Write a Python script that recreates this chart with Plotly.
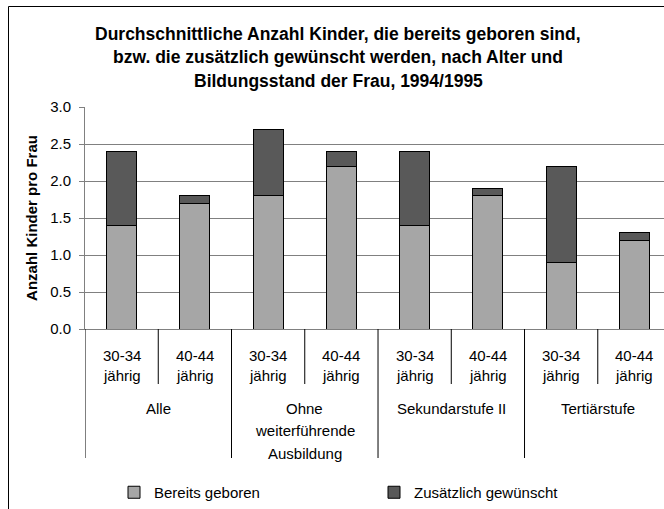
import plotly.graph_objects as go

# ---- data ----
groups = ["Alle", "Ohne weiterführende Ausbildung", "Sekundarstufe II", "Tertiärstufe"]
group_label_lines = [["Alle"], ["Ohne", "weiterführende", "Ausbildung"], ["Sekundarstufe II"], ["Tertiärstufe"]]
ages = ["30-34", "40-44"]
age_suffix = "jährig"
bereits_geboren = [1.4, 1.7, 1.8, 2.2, 1.4, 1.8, 0.9, 1.2]
zusaetzlich_gewuenscht = [1.0, 0.1, 0.9, 0.2, 1.0, 0.1, 1.3, 0.1]
series_names = ["Bereits geboren", "Zusätzlich gewünscht"]
title_lines = [
    "Durchschnittliche Anzahl Kinder, die bereits geboren sind,",
    "bzw. die zusätzlich gewünscht werden, nach Alter und",
    "Bildungsstand der Frau, 1994/1995",
]
y_title = "Anzahl Kinder pro Frau"

categories = [f"{g} {a}" for g in groups for a in ages]

FONT = "Liberation Sans, Arial, sans-serif"
W, H = 664, 509
L, T = 85, 107
B_PIX = 329  # y pixel of axis bottom
PH = B_PIX - T
PW = W - L


def py(pix):
    """pixel y -> paper y"""
    return (B_PIX - pix) / PH


def px(pix):
    return (pix - L) / PW


fig = go.Figure()
fig.add_trace(go.Bar(
    x=categories, y=bereits_geboren, name=series_names[0],
    marker=dict(color="#a6a6a6", line=dict(color="#000000", width=1)),
    width=0.41,
))
fig.add_trace(go.Bar(
    x=categories, y=zusaetzlich_gewuenscht, name=series_names[1],
    marker=dict(color="#595959", line=dict(color="#000000", width=1)),
    width=0.41,
))

annotations = []
shapes = []
n = len(categories)
LBL = 15
# title lines
for li, line in enumerate(title_lines):
    annotations.append(dict(x=px(338), xref="paper", y=py(34 + li * 23.5), yref="paper",
                            text="<b>" + line + "</b>", showarrow=False,
                            font=dict(family=FONT, size=17.5, color="#000"),
                            xanchor="center", yanchor="middle"))
# category labels
for i, c in enumerate(categories):
    age = ages[i % len(ages)]
    annotations.append(dict(x=c, xref="x", y=py(355), yref="paper", text=age,
                            showarrow=False, font=dict(family=FONT, size=LBL, color="#000"),
                            xanchor="center", yanchor="middle"))
    annotations.append(dict(x=c, xref="x", y=py(375), yref="paper", text=age_suffix,
                            showarrow=False, font=dict(family=FONT, size=LBL, color="#000"),
                            xanchor="center", yanchor="middle"))
# group labels
for gi, lines in enumerate(group_label_lines):
    center = gi * len(ages) + (len(ages) - 1) / 2
    for li, line in enumerate(lines):
        annotations.append(dict(x=center, xref="x", y=py(408 + li * 22.5), yref="paper", text=line,
                                showarrow=False, font=dict(family=FONT, size=LBL, color="#000"),
                                xanchor="center", yanchor="middle"))
# dividers
for k in range(n + 1):
    xpos = k - 0.5
    is_group = (k % len(ages) == 0)
    bottom = 458 if is_group else 384
    shapes.append(dict(type="line", xref="x", yref="paper", x0=xpos, x1=xpos,
                       y0=0, y1=py(bottom), line=dict(color="#000000", width=1)))

# outer chart border (partly clipped by the image edge, as in reference)
shapes.append(dict(type="rect", xref="paper", yref="paper",
                   x0=px(8.5), x1=px(W + 20), y0=py(6.5), y1=py(H + 20),
                   line=dict(color="#000000", width=1), fillcolor="rgba(0,0,0,0)", layer="below"))

fig.update_layout(
    width=W, height=H,
    margin=dict(l=L, r=0, t=T, b=H - B_PIX, pad=0),
    paper_bgcolor="white", plot_bgcolor="white",
    barmode="stack",
    font=dict(family=FONT, size=LBL, color="#000"),
    xaxis=dict(type="category", categoryorder="array", categoryarray=categories,
               range=[-0.5, 7.404], showticklabels=False, ticks="",
               showline=True, linecolor="#808080", linewidth=1, showgrid=False, fixedrange=True),
    yaxis=dict(range=[0, 3], dtick=0.5, tickformat=".1f",
               showgrid=True, gridcolor="#808080", gridwidth=1,
               showline=True, linecolor="#808080", linewidth=1,
               ticks="outside", ticklen=5, tickcolor="#808080",
               ticklabelstandoff=5,
               tickfont=dict(family=FONT, size=LBL, color="#000"),
               title=dict(text="<b>" + y_title + "</b>", standoff=8,
                          font=dict(family=FONT, size=15, color="#000")),
               zeroline=False, fixedrange=True),
    legend=dict(orientation="h", x=px(114), xanchor="left", y=py(493), yanchor="middle",
                font=dict(family=FONT, size=LBL, color="#000"),
                entrywidth=215, entrywidthmode="pixels", traceorder="normal",
                bgcolor="rgba(0,0,0,0)"),
    annotations=annotations,
    shapes=shapes,
)

fig.write_html("out.html", config={"displayModeBar": False},
               post_script="document.body.style.margin='0';document.body.style.overflow='hidden';")
